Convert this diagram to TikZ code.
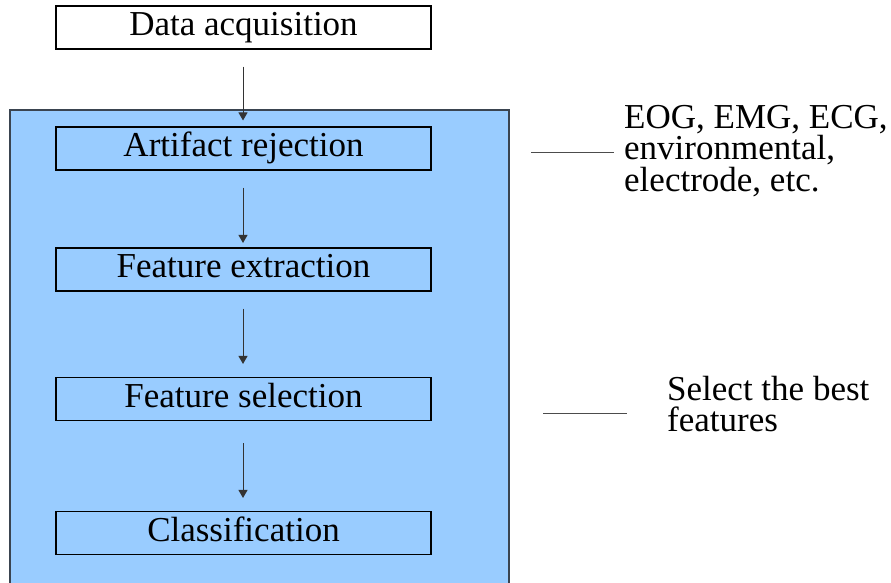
\documentclass[tikz,border=0pt]{standalone}
\usepackage{fontspec}
\setmainfont{LiberationSerif}[Extension=.ttf, UprightFont=*-Regular, BoldFont=*-Bold]
\newfontfamily\serifface{LiberationSerif}[Extension=.ttf, UprightFont=*-Regular]
\usetikzlibrary{arrows.meta}
\definecolor{panelblue}{HTML}{99CCFF}
\definecolor{paneledge}{HTML}{3A4450}
\begin{document}
\begin{tikzpicture}[x=1pt,y=-1pt,
  stepbox/.style={draw=black, line width=1.1pt, minimum width=375pt, minimum height=43pt,
    inner sep=0pt, text height=24pt, text depth=7.4pt, font=\serifface\fontsize{35}{36}\selectfont},
  flow/.style={draw=black!80, line width=1pt, -{Triangle[width=9pt,length=8pt]}},
  note/.style={align=left, anchor=base west, inner sep=0pt, font=\serifface\fontsize{35}{31.5}\selectfont},
  tie/.style={draw=black!70, line width=1pt}]
\useasboundingbox (0,0) rectangle (891,583);
\clip (0,0) rectangle (891,583);
\fill[white] (0,0) rectangle (891,583);
\draw[fill=panelblue, draw=paneledge, line width=1.2pt] (10,110) rectangle (509,620);

\node[stepbox, fill=white] (da) at (243.5,27.5) {Data acquisition};
\node[stepbox] (ar) at (243.5,148.5) {Artifact rejection};
\node[stepbox] (fe) at (243.5,269.5) {Feature extraction};
\node[stepbox] (fs) at (243.5,399) {Feature selection};
\node[stepbox] (cl) at (243.5,533) {Classification};

\draw[flow] ([xshift=-0.5pt,yshift=-17pt]da.south) -- ([xshift=-0.5pt,yshift=6pt]ar.north);
\draw[flow] ([xshift=-0.5pt,yshift=-17pt]ar.south) -- ([xshift=-0.5pt,yshift=4.5pt]fe.north);
\draw[flow] ([xshift=-0.5pt,yshift=-17pt]fe.south) -- ([xshift=-0.5pt,yshift=13pt]fs.north);
\draw[flow] ([xshift=-0.5pt,yshift=-22pt]fs.south) -- ([xshift=-0.5pt,yshift=13pt]cl.north);

\node[note] (n1) at (624,191) {EOG, EMG, ECG,\\environmental,\\electrode, etc.};
\node[note] (n2) at (667,431.5) {Select the best\\features};

\coordinate (t1a) at (531,152);
\coordinate (t1b) at (614,152);
\coordinate (t2a) at (543,413);
\coordinate (t2b) at (627,413);
\draw[tie] (t1a) -- (t1b);
\draw[tie] (t2a) -- (t2b);
\end{tikzpicture}
\end{document}
